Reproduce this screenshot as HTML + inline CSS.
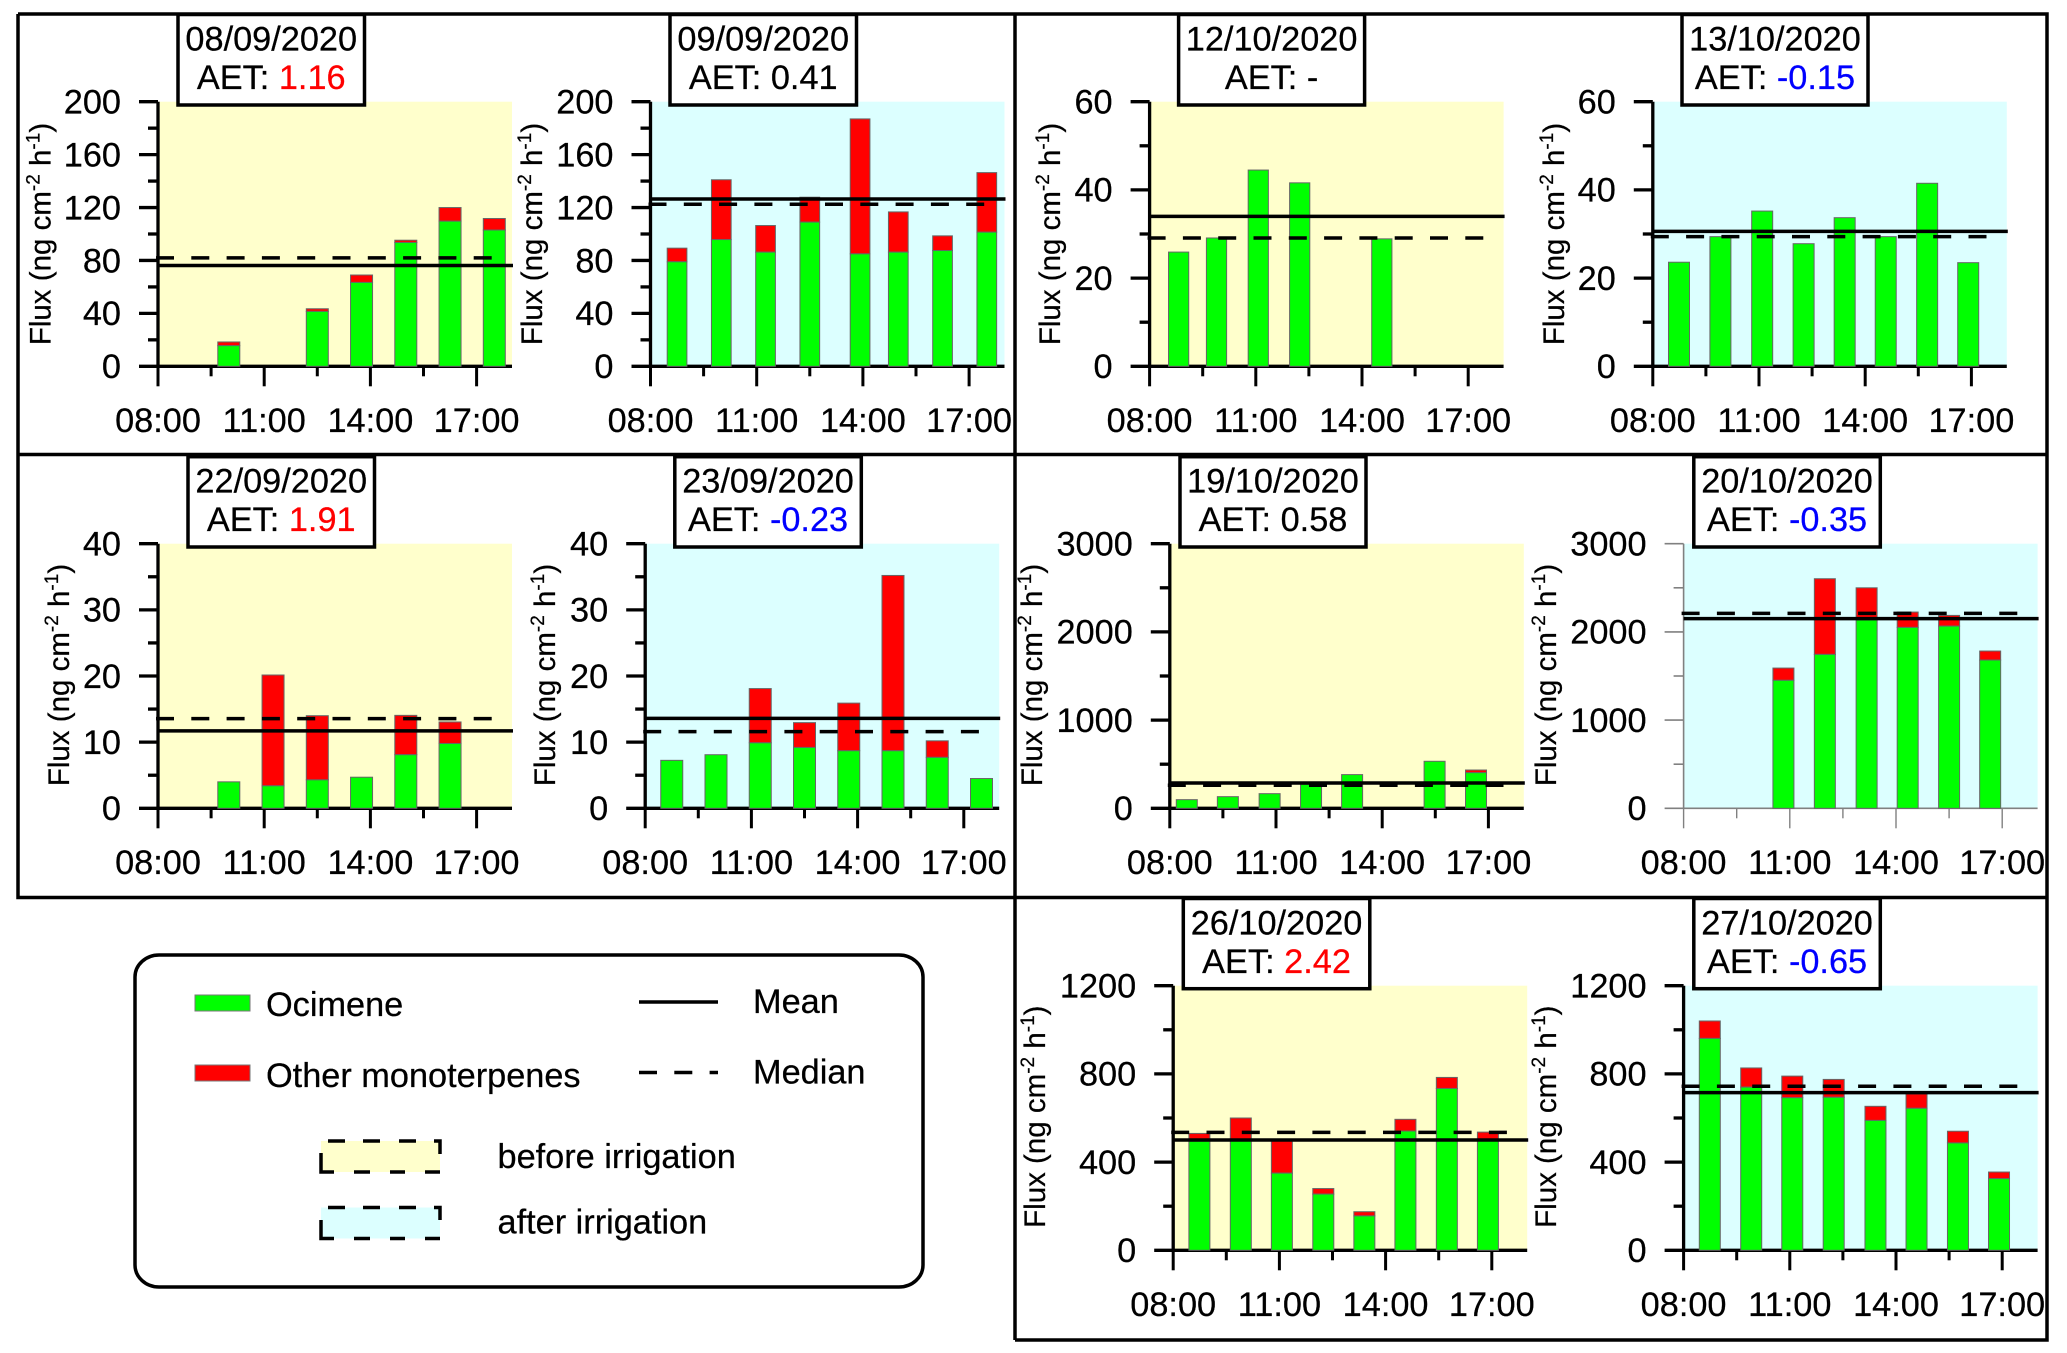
<!DOCTYPE html>
<html lang="en">
<head>
<meta charset="utf-8">
<title>Monoterpene flux before and after irrigation</title>
<style>
html,body{margin:0;padding:0;background:#fff;width:2067px;height:1353px;overflow:hidden}
svg{display:block;font-family:"Liberation Sans",sans-serif;fill:#000}
text{white-space:pre;stroke:#000;stroke-width:.25}
</style>
</head>
<body>
<svg id="figure" xmlns="http://www.w3.org/2000/svg" width="2067" height="1353" viewBox="0 0 2067 1353">
<g id="charts"></g>
<g id="frames" fill="none" stroke="#000" stroke-width="3.5">
  <path d="M18 14H2047V1340H1015M18 14V897.5H2047M18 454.5H2047M1015 14V1340"/>
</g>
<g id="legend" font-size="34.3">
  <rect x="135" y="955" width="788" height="332" rx="24" ry="22" fill="#fff" stroke="#000" stroke-width="3.5"/>
  <rect x="195" y="995" width="55" height="16" fill="#00ff00" stroke="#777" stroke-width="1"/>
  <text x="266" y="1016">Ocimene</text>
  <rect x="195" y="1065" width="55" height="16" fill="#ff0000" stroke="#777" stroke-width="1"/>
  <text x="266" y="1087">Other monoterpenes</text>
  <line x1="639" x2="718" y1="1002" y2="1002" stroke="#000" stroke-width="3.5"/>
  <text x="753" y="1013">Mean</text>
  <line x1="639" x2="718" y1="1072.5" y2="1072.5" stroke="#000" stroke-width="3.5" stroke-dasharray="18 17.3"/>
  <text x="753" y="1083.5">Median</text>
  <rect x="321" y="1141" width="119" height="31" fill="#ffffcc"/>
  <path d="M328 1141H345M363 1141H380M399 1141H416M434 1141H440V1154M321 1153V1172H334M354 1172H370M390 1172H405M425 1172H440" fill="none" stroke="#000" stroke-width="3.5"/>
  <text x="497.5" y="1168">before irrigation</text>
  <rect x="321" y="1207.5" width="119" height="31" fill="#dcffff"/>
  <path d="M328 1207.5H345M363 1207.5H380M399 1207.5H416M434 1207.5H440V1220M321 1220V1238.5H334M354 1238.5H370M390 1238.5H405M425 1238.5H440" fill="none" stroke="#000" stroke-width="3.5"/>
  <text x="497.5" y="1233.5">after irrigation</text>
</g>
</svg>
<script>
const timeTickValues = [8, 11, 14, 17];
const timeTickLabels = ['08:00', '11:00', '14:00', '17:00'];
const minorTimeTicks = [9.5, 12.5, 15.5];

const yTicks200 = [0, 40, 80, 120, 160, 200];
const yTicks60 = [0, 20, 40, 60];
const yTicks40 = [0, 10, 20, 30, 40];
const yTicks3000 = [0, 1000, 2000, 3000];
const yTicks1200 = [0, 400, 800, 1200];

const hours0809 = [10, 12.5, 13.75, 15, 16.25, 17.5];
const ocimene0809 = [15.6, 41.5, 63.4, 93.6, 109.7, 103];
const other0809 = [2.8, 2, 5.6, 1.7, 10.3, 8.7];
const mean0809 = 76.2;
const median0809 = 82;

const hours0909 = [8.75, 10, 11.25, 12.5, 13.92, 15, 16.25, 17.5];
const ocimene0909 = [79, 95.8, 86.3, 109, 85, 86.3, 87.5, 101.4];
const other0909 = [10.3, 45.2, 20.1, 18.8, 102, 30.4, 11.1, 45];
const mean0909 = 126.5;
const median0909 = 122.5;

const hours1210 = [8.82, 9.89, 11.07, 12.24, 14.56];
const ocimene1210 = [25.9, 29.1, 44.5, 41.6, 28.9];
const other1210 = [0, 0, 0, 0, 0];
const mean1210 = 34;
const median1210 = 29.1;

const hours1310 = [8.74, 9.91, 11.09, 12.26, 13.42, 14.58, 15.75, 16.91];
const ocimene1310 = [23.6, 29.4, 35.2, 27.8, 33.7, 29.4, 41.5, 23.5];
const other1310 = [0, 0, 0, 0, 0, 0, 0, 0];
const mean1310 = 30.6;
const median1310 = 29.4;

const hours2209 = [10, 11.25, 12.5, 13.75, 15, 16.25];
const ocimene2209 = [4, 3.4, 4.3, 4.7, 8.1, 9.8];
const other2209 = [0, 16.75, 9.7, 0, 5.95, 3.25];
const mean2209 = 11.7;
const median2209 = 13.55;

const hours2309 = [8.75, 10, 11.25, 12.5, 13.75, 15, 16.25, 17.5];
const ocimene2309 = [7.25, 8.1, 9.9, 9.2, 8.7, 8.7, 7.7, 4.5];
const other2309 = [0, 0, 8.2, 3.75, 7.2, 26.5, 2.5, 0];
const mean2309 = 13.6;
const median2309 = 11.6;

const hours1910 = [8.48, 9.64, 10.82, 11.99, 13.15, 15.48, 16.65];
const ocimene1910 = [98, 132, 166, 272, 382, 533, 404];
const other1910 = [0, 0, 0, 0, 0, 0, 30];
const mean1910 = 287;
const median1910 = 262;

const hours2010 = [10.82, 11.99, 13.17, 14.33, 15.5, 16.66];
const ocimene2010 = [1451, 1745, 2135, 2051, 2066, 1681];
const other2010 = [139, 858, 365, 174, 121, 102];
const mean2010 = 2150;
const median2010 = 2210;

const hours2610 = [8.74, 9.91, 11.07, 12.24, 13.4, 14.56, 15.73, 16.89];
const ocimene2610 = [495, 500, 350, 255, 156, 541, 734, 497];
const other2610 = [35, 100, 146, 25, 19, 53, 50, 39];
const mean2610 = 500;
const median2610 = 535;

const hours2710 = [8.74, 9.91, 11.07, 12.24, 13.42, 14.58, 15.75, 16.91];
const ocimene2710 = [961, 740, 692, 694, 589, 644, 487, 325];
const other2710 = [79, 87, 98, 81, 64, 65, 53, 30];
const mean2710 = 715;
const median2710 = 744;

const SVGNS = 'http://www.w3.org/2000/svg';
const chartsRoot = document.getElementById('charts');

function make(tag, attrs, parent) {
  const el = document.createElementNS(SVGNS, tag);
  for (const k in attrs) el.setAttribute(k, attrs[k]);
  parent.appendChild(el);
  return el;
}

function drawPanel(cfg) {
  const xScale = h => cfg.left + (h - 8) * 35.4;
  const plotW = 354;
  const right = cfg.left + plotW;
  const maxY = cfg.yTicks[cfg.yTicks.length - 1];
  const yScale = v => cfg.zero - v / maxY * (cfg.zero - cfg.top);
  const axisColor = cfg.thinAxes ? '#808080' : '#000';
  const axisW = cfg.thinAxes ? 1.6 : 3.3;

  const panel = make('g', {}, chartsRoot);
  
  

  const bg = make('rect', { x: cfg.left, y: cfg.top, width: plotW, height: cfg.zero - cfg.top, fill: cfg.bg }, panel);
  
  

  const yAxis = make('line', { x1: cfg.left, x2: cfg.left, y1: cfg.top, y2: cfg.zero, stroke: axisColor, 'stroke-width': axisW }, panel);
  
  

  const xAxis = make('line', { x1: cfg.left, x2: right, y1: cfg.zero, y2: cfg.zero, stroke: axisColor, 'stroke-width': axisW }, panel);
  
  

  cfg.yTicks.forEach((v, i) => {
    const y = yScale(v);
    const tick = make('line', { x1: cfg.left - 19, x2: cfg.left, y1: y, y2: y, stroke: axisColor, 'stroke-width': axisW }, panel);
    
    
    const label = make('text', { x: cfg.left - 37, y: y + 11.8, 'font-size': 34.3, 'text-anchor': 'end' }, panel);
    
    
    label.textContent = String(v);
    if (i < cfg.yTicks.length - 1) {
      const my = yScale((v + cfg.yTicks[i + 1]) / 2);
      const minor = make('line', { x1: cfg.left - 10, x2: cfg.left, y1: my, y2: my, stroke: axisColor, 'stroke-width': axisW }, panel);
      
      
    }
  });

  timeTickValues.forEach((h, i) => {
    const x = xScale(h);
    const tick = make('line', { x1: x, x2: x, y1: cfg.zero, y2: cfg.zero + 20, stroke: axisColor, 'stroke-width': cfg.thinAxes ? 1.4 : 3 }, panel);
    
    
    const label = make('text', { x: x, y: cfg.zero + 65.5, 'font-size': 34.3, 'text-anchor': 'middle' }, panel);
    
    
    label.textContent = timeTickLabels[i];
  });

  minorTimeTicks.forEach(h => {
    const x = xScale(h);
    const tick = make('line', { x1: x, x2: x, y1: cfg.zero, y2: cfg.zero + 10, stroke: axisColor, 'stroke-width': cfg.thinAxes ? 1.4 : 3 }, panel);
    
    
  });

  const yTitle = make('text', { transform: 'translate(' + cfg.titleX + ' ' + cfg.titleY + ') rotate(-90)', 'font-size': 29.5, 'text-anchor': 'middle' }, panel);
  
  
  make('tspan', {}, yTitle).textContent = 'Flux (ng cm';
  make('tspan', { dy: -11, 'font-size': 19 }, yTitle).textContent = '-2';
  make('tspan', { dy: 11 }, yTitle).textContent = ' h';
  make('tspan', { dy: -11, 'font-size': 19 }, yTitle).textContent = '-1';
  make('tspan', { dy: 11 }, yTitle).textContent = ')';

  cfg.hours.forEach((h, i) => {
    const x = xScale(h) - cfg.barW / 2;
    const gTop = yScale(cfg.ocimene[i]);
    const tTop = yScale(cfg.ocimene[i] + cfg.other[i]);
    if (cfg.other[i] > 0) {
      const red = make('rect', { x: x, y: tTop, width: cfg.barW, height: gTop - tTop, fill: '#ff0000', stroke: '#666', 'stroke-width': 1 }, panel);
      
      
    }
    const green = make('rect', { x: x, y: gTop, width: cfg.barW, height: cfg.zero - gTop, fill: '#00ff00', stroke: '#666', 'stroke-width': 1 }, panel);
    
    
  });

  const medianLine = make('line', { x1: cfg.left - 2, x2: right - 20, y1: yScale(cfg.median), y2: yScale(cfg.median), stroke: '#000', 'stroke-width': 3.5, 'stroke-dasharray': '18 17.3' }, panel);
  
  

  const meanLine = make('line', { x1: cfg.left, x2: right + 1, y1: yScale(cfg.mean), y2: yScale(cfg.mean), stroke: '#000', 'stroke-width': 3.5 }, panel);
  
  

  const box = make('rect', { x: cfg.boxX, y: cfg.boxTop, width: cfg.boxW, height: cfg.boxBottom - cfg.boxTop, fill: '#fff', stroke: '#000', 'stroke-width': 3.5 }, panel);
  
  

  const cx = cfg.boxX + cfg.boxW / 2;
  const dateText = make('text', { x: cx, y: cfg.boxTop + 36, 'font-size': 34.3, 'text-anchor': 'middle' }, panel);
  
  
  dateText.textContent = cfg.date;

  const aetText = make('text', { x: cx, y: cfg.boxTop + 74.5, 'font-size': 34.3, 'text-anchor': 'middle' }, panel);
  
  
  make('tspan', {}, aetText).textContent = 'AET: ';
  make('tspan', { fill: cfg.aetColor, stroke: cfg.aetColor }, aetText).textContent = cfg.aet;
}

const YELLOW = '#ffffcc';
const CYAN = '#dcffff';

drawPanel({ date: '08/09/2020', aet: '1.16', aetColor: '#ff0000', hours: hours0809, ocimene: ocimene0809, other: other0809, mean: mean0809, median: median0809, yTicks: yTicks200, bg: YELLOW, left: 158, top: 101.7, zero: 366.3, barW: 22, titleX: 50.5, titleY: 234, boxX: 178, boxW: 186.5, boxTop: 14.5, boxBottom: 105 });
drawPanel({ date: '09/09/2020', aet: '0.41', aetColor: '#000', hours: hours0909, ocimene: ocimene0909, other: other0909, mean: mean0909, median: median0909, yTicks: yTicks200, bg: CYAN, left: 650.5, top: 101.7, zero: 366.3, barW: 19.7, titleX: 542, titleY: 234, boxX: 670, boxW: 186.5, boxTop: 14.5, boxBottom: 105 });
drawPanel({ date: '12/10/2020', aet: '-', aetColor: '#000', hours: hours1210, ocimene: ocimene1210, other: other1210, mean: mean1210, median: median1210, yTicks: yTicks60, bg: YELLOW, left: 1149.6, top: 101.7, zero: 366.3, barW: 20.2, titleX: 1060, titleY: 234, boxX: 1178.6, boxW: 186, boxTop: 14.5, boxBottom: 105 });
drawPanel({ date: '13/10/2020', aet: '-0.15', aetColor: '#0000ff', hours: hours1310, ocimene: ocimene1310, other: other1310, mean: mean1310, median: median1310, yTicks: yTicks60, bg: CYAN, left: 1652.8, top: 101.7, zero: 366.3, barW: 21, titleX: 1564, titleY: 234, boxX: 1682, boxW: 186, boxTop: 14.5, boxBottom: 105 });

drawPanel({ date: '22/09/2020', aet: '1.91', aetColor: '#ff0000', hours: hours2209, ocimene: ocimene2209, other: other2209, mean: mean2209, median: median2209, yTicks: yTicks40, bg: YELLOW, left: 158, top: 543.7, zero: 808.3, barW: 22, titleX: 69, titleY: 675, boxX: 188, boxW: 186.5, boxTop: 456.7, boxBottom: 547 });
drawPanel({ date: '23/09/2020', aet: '-0.23', aetColor: '#0000ff', hours: hours2309, ocimene: ocimene2309, other: other2309, mean: mean2309, median: median2309, yTicks: yTicks40, bg: CYAN, left: 645.2, top: 543.7, zero: 808.3, barW: 22, titleX: 555, titleY: 675, boxX: 674.8, boxW: 186.5, boxTop: 456.7, boxBottom: 547 });
drawPanel({ date: '19/10/2020', aet: '0.58', aetColor: '#000', hours: hours1910, ocimene: ocimene1910, other: other1910, mean: mean1910, median: median1910, yTicks: yTicks3000, bg: YELLOW, left: 1169.8, top: 543.7, zero: 808.3, barW: 21, titleX: 1042, titleY: 675, boxX: 1180, boxW: 186, boxTop: 456.7, boxBottom: 547 });
drawPanel({ date: '20/10/2020', aet: '-0.35', aetColor: '#0000ff', hours: hours2010, ocimene: ocimene2010, other: other2010, mean: mean2010, median: median2010, yTicks: yTicks3000, bg: CYAN, left: 1683.6, top: 543.7, zero: 808.3, barW: 21, thinAxes: true, titleX: 1556, titleY: 675, boxX: 1693.8, boxW: 186.5, boxTop: 456.7, boxBottom: 547 });

drawPanel({ date: '26/10/2020', aet: '2.42', aetColor: '#ff0000', hours: hours2610, ocimene: ocimene2610, other: other2610, mean: mean2610, median: median2610, yTicks: yTicks1200, bg: YELLOW, left: 1173.2, top: 985.7, zero: 1250.3, barW: 21, titleX: 1045, titleY: 1116.7, boxX: 1183.3, boxW: 186.5, boxTop: 898.5, boxBottom: 988.7 });
drawPanel({ date: '27/10/2020', aet: '-0.65', aetColor: '#0000ff', hours: hours2710, ocimene: ocimene2710, other: other2710, mean: mean2710, median: median2710, yTicks: yTicks1200, bg: CYAN, left: 1683.6, top: 985.7, zero: 1250.3, barW: 21, titleX: 1556, titleY: 1116.7, boxX: 1693.8, boxW: 186.5, boxTop: 898.5, boxBottom: 988.7 });
</script>
</body>
</html>
